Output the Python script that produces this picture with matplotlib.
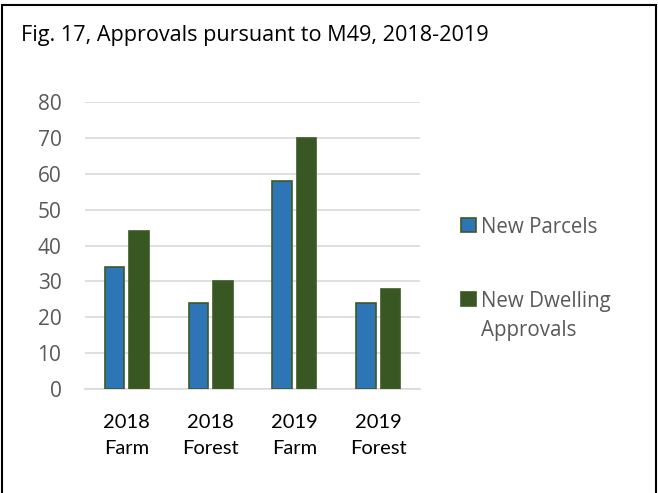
import matplotlib
matplotlib.use("Agg")
import matplotlib.pyplot as plt
from matplotlib.patches import Rectangle
import numpy as np

categories = ["2018\nFarm", "2018\nForest", "2019\nFarm", "2019\nForest"]
new_parcels = [34, 24, 58, 24]
new_dwellings = [44, 30, 70, 28]
series_labels = ["New Parcels", "New Dwelling\nApprovals"]
y_ticks = [0, 10, 20, 30, 40, 50, 60, 70, 80]
title = "Fig. 17, Approvals pursuant to M49, 2018-2019"

BLUE = "#2E75B6"
GREEN = "#385723"
EDGE = "#3B5A25"
GRID = "#D9D9D9"
GRAY_TEXT = "#595959"

W, H = 658, 493
fig = plt.figure(figsize=(W / 100, H / 100), dpi=100)
fig.patch.set_facecolor("white")

ax = fig.add_axes([85 / W, 1 - 389 / H, (420 - 85) / W, (389 - 102) / H])
x = np.arange(len(categories))
width = 0.235
off = 0.146
ax.bar(x - off, new_parcels, width, color=BLUE, edgecolor=EDGE, linewidth=1.2, zorder=3)
ax.bar(x + off, new_dwellings, width, color=GREEN, edgecolor=EDGE, linewidth=1.2, zorder=3)

ax.set_xlim(-0.5, len(categories) - 0.5)
ax.set_ylim(0, 80)
ax.set_yticks(y_ticks)
ax.yaxis.grid(True, color=GRID, linewidth=1.2, zorder=0)
ax.set_axisbelow(True)
for s in ["top", "right", "left"]:
    ax.spines[s].set_visible(False)
ax.spines["bottom"].set_color(GRID)
ax.spines["bottom"].set_linewidth(1.2)
ax.tick_params(axis="both", length=0)
ax.tick_params(axis="y", pad=17, labelcolor=GRAY_TEXT, labelsize=15)
for lab in ax.get_yticklabels():
    lab.set_fontfamily("Open Sans")
ax.set_xticks(x)
ax.set_xticklabels(categories, fontfamily="Lato", fontsize=14.5, color="black",
                   linespacing=1.65)
ax.tick_params(axis="x", pad=18)

# Title
fig.text(21 / W, 1 - 36 / H, title, fontfamily="Open Sans", fontsize=15.6,
         color="black", va="center", ha="left")

# Legend
sq = 14.5
for yc, color, label in [(225, BLUE, series_labels[0]), (299, GREEN, series_labels[1])]:
    fig.patches.append(Rectangle(((461) / W, 1 - (yc + sq / 2) / H), sq / W, sq / H,
                                 transform=fig.transFigure, facecolor=color,
                                 edgecolor=EDGE, linewidth=1.2))
    fig.text(481 / W, 1 - (yc - 8) / H, label, fontfamily="Open Sans", fontsize=14.8,
             color=GRAY_TEXT, va="top", ha="left", linespacing=1.5)

# Outer border of the figure
fig.patches.append(Rectangle((1.5 / W, -0.02), (656 - 1.5) / W, 1.02 - 5 / H,
                             transform=fig.transFigure, fill=False,
                             edgecolor="black", linewidth=1.5, clip_on=False))

fig.savefig("out.png", dpi=100)
